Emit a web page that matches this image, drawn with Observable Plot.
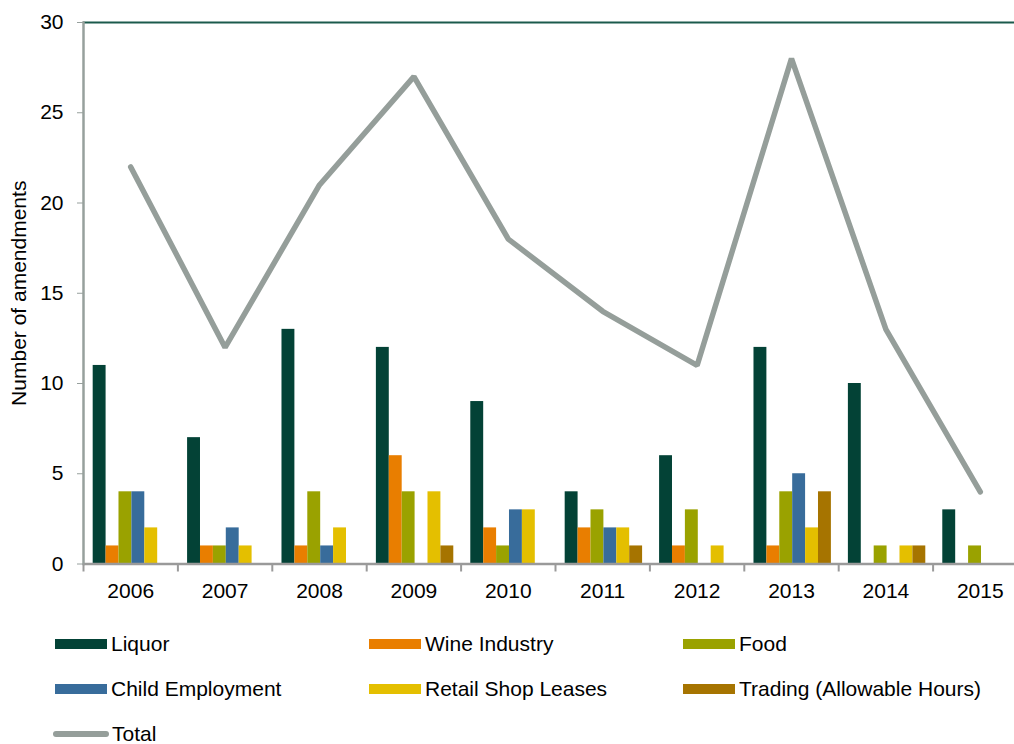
<!DOCTYPE html>
<html><head><meta charset="utf-8">
<script src="https://cdn.jsdelivr.net/npm/d3@7"></script>
<script src="https://cdn.jsdelivr.net/npm/@observablehq/plot@0.6"></script>
<style>
html,body{margin:0;padding:0;background:#fff;}
body{font-family:"Liberation Sans",Arial,sans-serif;}
#root{position:relative;width:1014px;height:744px;overflow:hidden;}
#root svg{position:absolute;left:0;top:0;background:transparent;max-width:none !important;}
.lg{position:absolute;display:flex;align-items:center;font-size:21px;color:#000;white-space:nowrap;}
.sw{width:52px;height:10px;margin-right:4px;}
.swl{width:56px;height:6px;border-radius:3px;margin-right:3px;}
</style></head>
<body>
<div id="root"></div>
<script>
// ---- data ----
const years = [2006, 2007, 2008, 2009, 2010, 2011, 2012, 2013, 2014, 2015];
const seriesNames = ["Liquor", "Wine Industry", "Food", "Child Employment", "Retail Shop Leases", "Trading (Allowable Hours)"];
const liquor   = [11, 7, 13, 12, 9, 4, 6, 12, 10, 3];
const wine     = [1, 1, 1, 6, 2, 2, 1, 1, 0, 0];
const food     = [4, 1, 4, 4, 1, 3, 3, 4, 1, 1];
const child    = [4, 2, 1, 0, 3, 2, 0, 5, 0, 0];
const retail   = [2, 1, 2, 4, 3, 2, 1, 2, 1, 0];
const trading  = [0, 0, 0, 1, 0, 1, 0, 4, 1, 0];
const total    = [22, 12, 21, 27, 18, 14, 11, 28, 13, 4];
const yTicks = [0, 5, 10, 15, 20, 25, 30];
const seriesColors = ["#034236", "#E97E00", "#9AA200", "#386C9B", "#E4BF00", "#A67400"];
const totalColor = "#959E9A";
const yTitle = "Number of amendments";

// ---- tables built from the arrays ----
const seriesValues = [liquor, wine, food, child, retail, trading];
const barRows = [];
years.forEach((yr, i) => seriesNames.forEach((s, j) => barRows.push({year: yr, series: s, value: seriesValues[j][i]})));
const totalRows = years.map((yr, i) => ({year: yr, value: total[i]}));

// ---- layout ----
const W = 1027, H = 610, ML = 83, MR = 0, MT = 22, MB = 46.5;
const step = (W - ML - MR) / years.length;
const font = "Liberation Sans, Arial, sans-serif";
const FS = 21;

const bars = Plot.plot({
  width: W, height: H, marginLeft: ML, marginRight: MR, marginTop: MT, marginBottom: MB,
  style: {background: "transparent", fontFamily: font, maxWidth: "none"},
  fx: {domain: years, paddingInner: 0.18, paddingOuter: 0.09, align: 0.57, round: false, axis: null, label: null},
  x: {domain: seriesNames, padding: 0, round: false, axis: null},
  y: {domain: [0, 30], axis: null},
  color: {domain: seriesNames, range: seriesColors},
  marks: [
    Plot.barY(barRows, {fx: "year", x: "series", y: "value", fill: "series"})
  ]
});

const overlay = Plot.plot({
  width: W, height: H, marginLeft: ML, marginRight: MR, marginTop: MT, marginBottom: MB,
  style: {background: "transparent", fontFamily: font, fontSize: FS + "px", color: "#000", maxWidth: "none"},
  x: {type: "band", domain: years, padding: 0, round: false, axis: null},
  y: {domain: [0, 30], axis: null},
  marks: [
    Plot.ruleY([30], {stroke: "#1b5a4c", strokeWidth: 2}),
    Plot.ruleY([0], {stroke: "#9a9a9a", strokeWidth: 2.5}),
    Plot.frame({anchor: "left", stroke: "#97a09d", strokeWidth: 2.5}),
    Plot.ruleX(years, {x: d => d, y1: 0, y2: 0, insetBottom: -8, dx: -step / 2, stroke: "#9a9a9a", strokeWidth: 2}),
    Plot.axisY({ticks: yTicks, tickSize: 6, tickPadding: 14, stroke: "#97a09d", fontSize: FS, label: null, tickFormat: d => d}),
    Plot.axisX({tickSize: 0, tickPadding: 19, fontSize: FS, label: null, tickFormat: d => String(d)}),
    Plot.text([yTitle], {frameAnchor: "left", textAnchor: "middle", lineAnchor: "middle", rotate: -90, dx: -64, fontSize: FS, fill: "#000"}),
    Plot.line(totalRows, {x: "year", y: "value", stroke: totalColor, strokeWidth: 5.5, strokeLinecap: "round", strokeLinejoin: "miter"})
  ]
});

const root = document.getElementById("root");
root.appendChild(bars);
root.appendChild(overlay);

// ---- legend (HTML, below the svg) ----
const legendItems = seriesNames.map((s, i) => ({label: s, color: seriesColors[i], line: false}));
legendItems.push({label: "Total", color: totalColor, line: true});
const colX = [55, 369, 683];
const rowY = [644, 689, 734];
legendItems.forEach((it, i) => {
  const el = document.createElement("div");
  el.className = "lg";
  const col = i % 3, row = Math.floor(i / 3);
  el.style.left = (it.line ? colX[col] - 2 : colX[col]) + "px";
  el.style.top = (rowY[row] - 12) + "px";
  el.style.height = "24px";
  const sw = document.createElement("span");
  sw.className = it.line ? "swl" : "sw";
  sw.style.background = it.color;
  el.appendChild(sw);
  const t = document.createElement("span");
  t.textContent = it.label;
  el.appendChild(t);
  root.appendChild(el);
});
</script>
</body></html>
